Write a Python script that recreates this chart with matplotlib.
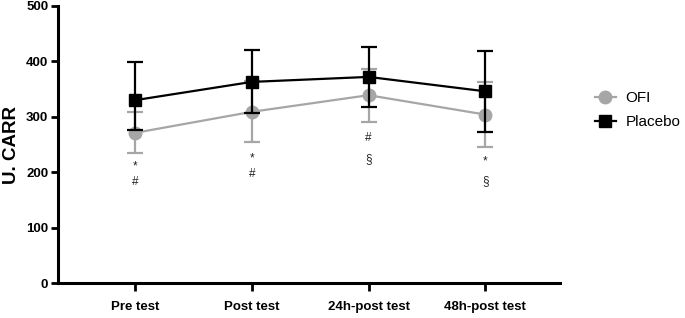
import matplotlib.pyplot as plt
import numpy as np

plt.rcParams['font.family'] = ['Liberation Sans', 'DejaVu Sans']

# datos
momentos = ['Pre test', 'Post test', '24h-post test', '48h-post test']

ofi = [271, 309, 339, 304]
ofi_err_inf = [37, 54, 48, 59]
ofi_err_sup = [37, 55, 48, 59]

placebo = [330, 363, 372, 346]
placebo_err_inf = [54, 56, 54, 73]
placebo_err_sup = [69, 58, 54, 73]

# marcas de significancia (texto, posicion y)
marcas_sup = ['*', '*', '#', '*']
marcas_inf = ['#', '#', '§', '§']
y_sup = [210, 224, 262, 219]
y_inf = [182, 197, 224, 184]

gris = '#a6a6a6'
x = np.arange(len(momentos))

fig = plt.figure(figsize=(6.85, 3.18), dpi=100)
ax = fig.add_axes([58/685, 1-283/318, (560-58)/685, (283-6)/318])

eb1 = ax.errorbar(x, ofi, yerr=[ofi_err_inf, ofi_err_sup], color=gris, marker='o',
                  markersize=9, linewidth=1.6, elinewidth=1.6, capsize=5.5,
                  capthick=1.6, zorder=2)
eb2 = ax.errorbar(x, placebo, yerr=[placebo_err_inf, placebo_err_sup], color='black',
                  marker='s', markersize=9, linewidth=1.6, elinewidth=1.6,
                  capsize=5.5, capthick=1.6, zorder=3)

for i in range(len(x)):
    ax.text(x[i], y_sup[i], marcas_sup[i], ha='center', va='center',
            fontsize=8.5, color='#222222')
    ax.text(x[i], y_inf[i], marcas_inf[i], ha='center', va='center',
            fontsize=8.5, color='#222222')

ax.set_xlim(-0.66, 3.64)
ax.set_ylim(0, 500)
ax.set_yticks([0, 100, 200, 300, 400, 500])
ax.set_xticks(x)
ax.set_xticklabels(momentos, fontweight='bold', fontsize=9.5)
for t in ax.get_yticklabels():
    t.set_fontweight('bold')
    t.set_fontsize(9.5)
ax.set_ylabel('U. CARR', fontweight='bold', fontsize=13.5, labelpad=4)

for s in ['top', 'right']:
    ax.spines[s].set_visible(False)
for s in ['left', 'bottom']:
    ax.spines[s].set_linewidth(2.2)
ax.tick_params(axis='y', width=2, length=5, pad=2)
ax.tick_params(axis='x', width=2, length=6, pad=7)

fig.legend([eb1.lines[0], eb2.lines[0]], ['OFI', 'Placebo'], loc='center left',
           bbox_to_anchor=(581/685, 1-110/318), frameon=False, fontsize=11,
           handlelength=1.4, handletextpad=0.6, labelspacing=0.65)

fig.savefig('out.png', dpi=100)
